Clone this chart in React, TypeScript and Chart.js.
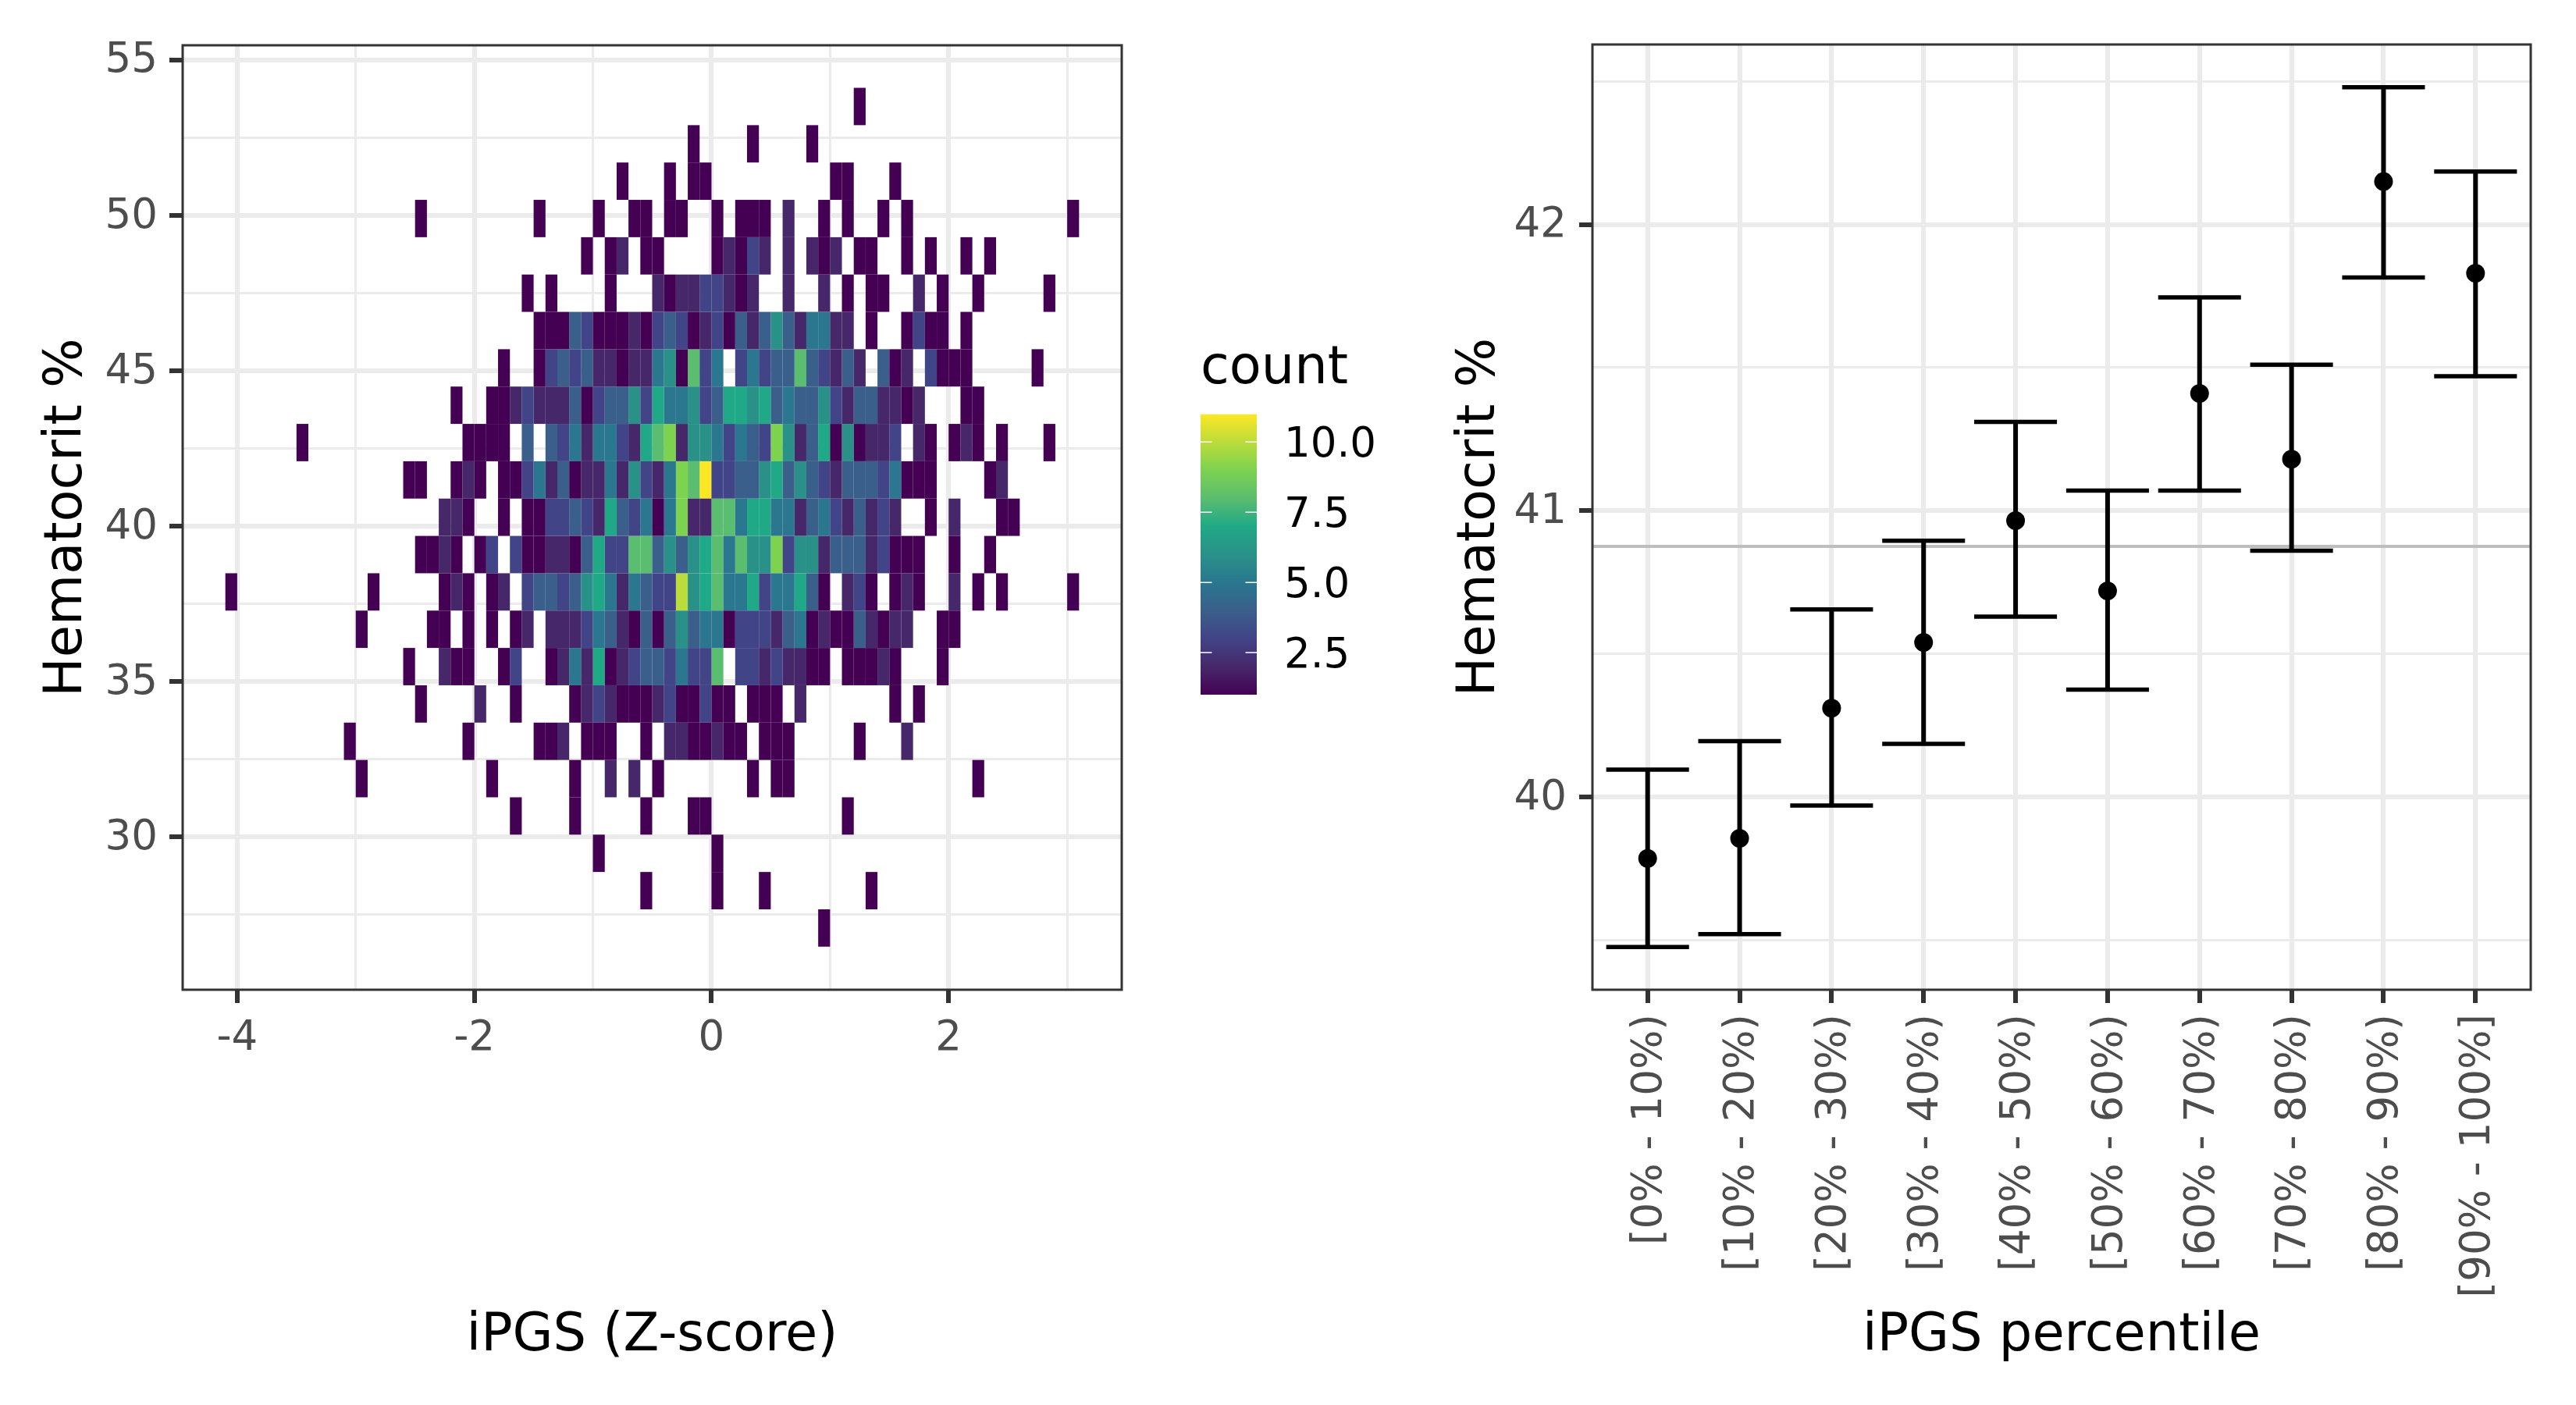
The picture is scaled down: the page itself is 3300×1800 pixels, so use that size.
import React, { useEffect, useRef } from "react";
import { Chart, registerables } from "chart.js";

Chart.register(...registerables);

const FONT = "'DejaVu Sans'";
const GRID = "#EBEBEB";
const DARK = "#333333";
const TICK_TEXT = "#4D4D4D";
const TICK_SIZE = 53;
const TITLE_SIZE = 67;

// viridis colours for counts 1..11
const COUNT_COLORS = ["#440154", "#46286A", "#414487", "#3A5F8A", "#2A778F", "#2A9188", "#20A986", "#5BBD6F", "#7DD250", "#BBDC3A", "#FDE725"];

const X_BIN = 0.1;
const Y_BIN = 1.2015;
const TOP_ROW_CENTER = 53.5;

// One list per hematocrit row, top to bottom: pairs of [x bin index, count]
const ROW_00 = [[12,1]];
const ROW_01 = [[-2,1],[3,1],[8,1]];
const ROW_02 = [[-8,1],[-4,1],[-2,1],[-1,1],[10,1],[11,1],[15,1]];
const ROW_03 = [[-25,1],[-15,1],[-10,1],[-7,1],[-6,1],[-4,1],[-3,1],[0,1],[2,1],[3,1],[4,1],[6,2],[9,1],[11,1],[14,1],[16,1],[30,1]];
const ROW_04 = [[-11,1],[-9,1],[-8,2],[-6,1],[-5,1],[0,1],[1,2],[2,1],[3,3],[4,2],[6,2],[8,2],[9,1],[10,2],[12,1],[13,1],[16,1],[18,1],[21,1],[23,1]];
const ROW_05 = [[-16,1],[-14,1],[-9,1],[-5,2],[-4,1],[-3,2],[-2,2],[-1,3],[0,3],[1,2],[2,1],[3,2],[6,2],[9,2],[11,1],[13,1],[14,1],[17,2],[19,1],[22,1],[28,1]];
const ROW_06 = [[-15,1],[-14,1],[-13,1],[-12,4],[-11,3],[-10,1],[-9,1],[-8,1],[-7,2],[-6,1],[-5,3],[-4,4],[-3,3],[-2,1],[-1,2],[0,3],[1,1],[2,4],[3,2],[4,4],[5,6],[6,4],[7,2],[8,5],[9,5],[10,2],[11,2],[13,1],[16,1],[17,3],[18,1],[19,1],[21,1]];
const ROW_07 = [[-18,1],[-15,1],[-14,3],[-13,4],[-12,3],[-11,4],[-10,2],[-9,2],[-8,1],[-7,2],[-6,2],[-5,5],[-4,6],[-3,1],[-2,8],[-1,3],[0,5],[2,3],[3,5],[4,3],[5,4],[6,4],[7,8],[8,4],[9,3],[10,2],[11,4],[12,2],[14,4],[15,1],[16,2],[18,3],[19,1],[20,1],[21,1],[27,1]];
const ROW_08 = [[-22,1],[-19,1],[-18,1],[-17,2],[-16,3],[-15,2],[-14,2],[-13,2],[-12,4],[-11,1],[-10,3],[-9,4],[-8,4],[-7,6],[-6,3],[-5,7],[-4,5],[-3,5],[-2,6],[-1,3],[0,4],[1,7],[2,7],[3,6],[4,7],[5,4],[6,5],[7,4],[8,4],[9,6],[10,3],[11,2],[12,4],[13,4],[14,2],[15,2],[16,1],[17,2],[21,1],[22,1]];
const ROW_09 = [[-35,1],[-21,1],[-20,1],[-19,1],[-18,1],[-16,4],[-14,4],[-13,3],[-12,5],[-11,2],[-10,5],[-9,5],[-8,3],[-7,2],[-6,7],[-5,8],[-4,9],[-3,2],[-2,6],[-1,6],[0,5],[1,3],[2,5],[3,4],[4,3],[5,9],[6,6],[7,2],[8,4],[9,7],[10,1],[11,6],[12,1],[13,2],[14,2],[15,3],[17,2],[18,1],[20,1],[21,2],[22,1],[24,1],[28,1]];
const ROW_10 = [[-26,1],[-25,1],[-22,1],[-21,2],[-20,1],[-18,1],[-17,1],[-16,3],[-15,5],[-14,2],[-13,4],[-12,1],[-11,2],[-10,2],[-9,5],[-8,2],[-7,6],[-6,3],[-5,2],[-4,5],[-3,9],[-2,8],[-1,11],[0,3],[1,3],[2,4],[3,4],[4,6],[5,7],[6,4],[7,6],[8,4],[9,3],[10,2],[11,4],[12,4],[13,4],[14,3],[15,5],[16,1],[17,1],[18,1],[23,1],[24,2]];
const ROW_11 = [[-23,2],[-22,2],[-21,1],[-18,1],[-16,1],[-15,1],[-14,3],[-13,3],[-12,4],[-11,3],[-10,2],[-9,7],[-8,4],[-7,3],[-6,5],[-5,1],[-4,5],[-3,9],[-2,2],[-1,2],[0,8],[1,8],[2,5],[3,7],[4,7],[5,5],[6,5],[7,2],[8,4],[9,5],[10,3],[11,2],[12,4],[13,2],[14,3],[15,2],[18,1],[20,2],[24,1],[25,1]];
const ROW_12 = [[-25,1],[-24,1],[-23,2],[-22,1],[-20,1],[-19,3],[-17,3],[-16,1],[-15,1],[-14,2],[-13,2],[-12,1],[-11,4],[-10,7],[-9,3],[-8,3],[-7,8],[-6,8],[-5,4],[-4,6],[-3,4],[-2,6],[-1,7],[0,8],[1,5],[2,8],[3,6],[4,6],[5,9],[6,3],[7,6],[8,6],[9,2],[10,4],[11,4],[12,4],[13,2],[14,3],[15,1],[16,1],[17,1],[20,1],[23,1]];
const ROW_13 = [[-41,1],[-29,1],[-23,1],[-22,2],[-21,1],[-19,1],[-18,2],[-16,3],[-15,4],[-14,4],[-13,3],[-12,4],[-11,6],[-10,7],[-9,5],[-8,2],[-7,5],[-6,4],[-5,3],[-4,3],[-3,10],[-2,6],[-1,7],[0,8],[1,5],[2,5],[3,7],[4,3],[5,5],[6,5],[7,7],[8,4],[9,1],[11,2],[12,3],[13,1],[15,1],[16,2],[17,1],[20,2],[22,1],[24,1],[30,1]];
const ROW_14 = [[-30,1],[-24,1],[-23,1],[-21,1],[-19,1],[-17,1],[-16,2],[-14,2],[-13,2],[-12,2],[-11,3],[-10,5],[-9,4],[-8,2],[-7,1],[-6,4],[-5,1],[-4,4],[-3,6],[-2,4],[-1,5],[0,5],[1,1],[2,3],[3,3],[4,3],[5,2],[6,4],[7,5],[8,1],[9,2],[10,1],[11,1],[12,4],[13,2],[14,1],[15,2],[16,2],[19,1],[20,1]];
const ROW_15 = [[-26,1],[-23,2],[-22,1],[-21,1],[-18,1],[-17,3],[-14,1],[-13,2],[-12,5],[-11,2],[-10,7],[-9,1],[-8,2],[-7,3],[-6,4],[-5,4],[-4,3],[-3,5],[-2,3],[-1,3],[0,8],[2,3],[3,3],[4,2],[5,3],[6,2],[7,2],[8,1],[9,1],[11,1],[12,1],[13,1],[14,2],[15,1],[19,1]];
const ROW_16 = [[-25,1],[-20,2],[-17,1],[-12,1],[-11,2],[-10,3],[-9,2],[-8,1],[-7,1],[-6,1],[-5,2],[-4,3],[-3,1],[-2,1],[-1,3],[0,1],[1,1],[3,1],[4,1],[5,1],[7,2],[15,1],[17,1]];
const ROW_17 = [[-31,1],[-21,1],[-15,1],[-14,1],[-13,2],[-11,1],[-10,1],[-9,1],[-6,1],[-4,2],[-3,2],[-2,1],[-1,1],[0,2],[1,1],[2,1],[4,1],[5,1],[6,1],[12,1],[16,2]];
const ROW_18 = [[-30,1],[-19,1],[-12,1],[-9,2],[-7,2],[-5,1],[3,1],[5,1],[6,1],[22,1]];
const ROW_19 = [[-17,1],[-12,1],[-6,1],[-2,1],[-1,1],[11,1]];
const ROW_20 = [[-10,1],[0,1]];
const ROW_21 = [[-6,1],[0,1],[4,1],[13,1]];
const ROW_22 = [[9,1]];
const HEAT_ROWS = [ROW_00,ROW_01,ROW_02,ROW_03,ROW_04,ROW_05,ROW_06,ROW_07,ROW_08,ROW_09,ROW_10,ROW_11,ROW_12,ROW_13,ROW_14,ROW_15,ROW_16,ROW_17,ROW_18,ROW_19,ROW_20,ROW_21,ROW_22];

const HEAT_X_MAJOR = [-4, -2, 0, 2];
const HEAT_X_MINOR = [-3, -1, 1, 3];
const HEAT_Y_MAJOR = [30, 35, 40, 45, 50, 55];
const HEAT_Y_MINOR = [27.5, 32.5, 37.5, 42.5, 47.5, 52.5];

const PERCENTILES = ["[0% - 10%)", "[10% - 20%)", "[20% - 30%)", "[30% - 40%)", "[40% - 50%)", "[50% - 60%)", "[60% - 70%)", "[70% - 80%)", "[80% - 90%)", "[90% - 100%]"];
const MEANS = [39.785, 39.855, 40.31, 40.54, 40.965, 40.72, 41.41, 41.18, 42.15, 41.83];
const LOWS = [39.475, 39.52, 39.97, 40.185, 40.63, 40.375, 41.07, 40.86, 41.815, 41.47];
const HIGHS = [40.095, 40.195, 40.655, 40.895, 41.31, 41.07, 41.745, 41.51, 42.48, 42.185];
const OVERALL_MEAN = 40.875;
const CAP_HALF = 0.45;
const RIGHT_Y_MAJOR = [40, 41, 42];
const RIGHT_Y_MINOR = [39.5, 40.5, 41.5, 42.5];

const LEGEND_TICKS = [2.5, 5, 7.5, 10];

const panelBorder = {
  id: "panelBorder",
  afterDraw(chart: any) {
    const { left, top, width, height } = chart.chartArea;
    const c = chart.ctx;
    c.save();
    c.strokeStyle = DARK;
    c.lineWidth = 3;
    c.strokeRect(left, top, width, height);
    c.restore();
  },
};

function axis(opts: any) {
  const { major, minor, labels, title, titlePad, fit, tickPad, min, max, rotate, labelOffset } = opts;
  const isMajor = (c: any) => major.includes(c.tick?.value);
  return {
    type: "linear",
    min,
    max,
    offset: false,
    afterBuildTicks: (s: any) => {
      s.ticks = [...major, ...minor].sort((a: number, b: number) => a - b).map((value: number) => ({ value }));
    },
    afterFit: fit,
    border: { display: false },
    grid: {
      offset: false,
      color: GRID,
      lineWidth: (c: any) => (isMajor(c) ? 6 : 3),
      tickColor: (c: any) => (isMajor(c) ? DARK : "rgba(0,0,0,0)"),
      tickWidth: (c: any) => (isMajor(c) ? 6 : 0),
      tickLength: 17,
      drawTicks: true,
    },
    ticks: {
      autoSkip: false,
      includeBounds: false,
      padding: tickPad,
      labelOffset: labelOffset ?? 0,
      color: TICK_TEXT,
      font: { family: FONT, size: TICK_SIZE },
      maxRotation: rotate ? 90 : 0,
      minRotation: rotate ? 90 : 0,
      callback: labels,
    },
    title: {
      display: true,
      text: title,
      color: "#000000",
      font: { family: FONT, size: TITLE_SIZE },
      padding: { top: titlePad, bottom: titlePad },
    },
  };
}

function useChart(make: (c: HTMLCanvasElement) => Chart) {
  const ref = useRef<HTMLCanvasElement | null>(null);
  useEffect(() => {
    const chart = make(ref.current!);
    return () => chart.destroy();
  }, []);
  return ref;
}

function heatConfig(): any {
  const datasets = COUNT_COLORS.map((color, k) => {
    const data: any[] = [];
    HEAT_ROWS.forEach((row, r) => {
      const mid = TOP_ROW_CENTER - r * Y_BIN;
      row.forEach(([bin, n]) => {
        if (n === k + 1) data.push({ x: (bin + 0.5) * X_BIN, y: [mid - Y_BIN / 2, mid + Y_BIN / 2] });
      });
    });
    return {
      label: String(k + 1),
      data,
      backgroundColor: color,
      borderWidth: 0,
      grouped: false,
      barThickness: 15.2,
      inflateAmount: 0,
    };
  });
  return {
    type: "bar",
    data: { datasets },
    options: {
      animation: false,
      responsive: false,
      devicePixelRatio: 1,
      layout: { padding: { left: 0, right: 63, top: 58, bottom: 0 } },
      plugins: { legend: { display: false }, tooltip: { enabled: false } },
      scales: {
        x: axis({
          min: -4.46, max: 3.46, major: HEAT_X_MAJOR, minor: HEAT_X_MINOR, title: "iPGS (Z-score)", titlePad: 47, tickPad: 14,
          labels: (v: number) => (HEAT_X_MAJOR.includes(v) ? String(v) : ""),
          fit: (s: any) => { s.height = 532; },
        }),
        y: axis({
          min: 25.08, max: 55.47, major: HEAT_Y_MAJOR, minor: HEAT_Y_MINOR, title: "Hematocrit %", titlePad: 46, tickPad: 15, labelOffset: 2,
          labels: (v: number) => (HEAT_Y_MAJOR.includes(v) ? String(v) : ""),
          fit: (s: any) => { s.width = 234; },
        }),
      },
    },
    plugins: [panelBorder],
  };
}

function errorConfig(): any {
  const line = (points: any[], color: string, width: number) => ({
    type: "line",
    data: points,
    borderColor: color,
    borderWidth: width,
    pointRadius: 0,
    fill: false,
    tension: 0,
    borderCapStyle: "butt",
  });
  const datasets: any[] = [
    {
      type: "scatter",
      data: MEANS.map((y, i) => ({ x: i, y })),
      backgroundColor: "#000000",
      borderColor: "#000000",
      pointRadius: 12,
      borderWidth: 0,
      showLine: false,
    },
  ];
  MEANS.forEach((_, i) => {
    datasets.push(line([{ x: i, y: LOWS[i] }, { x: i, y: HIGHS[i] }], "#000000", 6));
    datasets.push(line([{ x: i - CAP_HALF, y: LOWS[i] }, { x: i + CAP_HALF, y: LOWS[i] }], "#000000", 5.5));
    datasets.push(line([{ x: i - CAP_HALF, y: HIGHS[i] }, { x: i + CAP_HALF, y: HIGHS[i] }], "#000000", 5.5));
  });
  datasets.push(line([{ x: -0.6, y: OVERALL_MEAN }, { x: 9.6, y: OVERALL_MEAN }], "#BEBEBE", 4));
  const cats = PERCENTILES.map((_, i) => i);
  return {
    type: "line",
    data: { datasets },
    options: {
      animation: false,
      responsive: false,
      devicePixelRatio: 1,
      layout: { padding: { left: 0, right: 58, top: 57, bottom: 0 } },
      plugins: { legend: { display: false }, tooltip: { enabled: false } },
      scales: {
        x: axis({
          min: -0.6, max: 9.6, major: cats, minor: [], title: "iPGS percentile", titlePad: 47, tickPad: 14, rotate: true, labelOffset: 4,
          labels: (v: number) => PERCENTILES[v] ?? "",
          fit: (s: any) => { s.height = 532; },
        }),
        y: axis({
          min: 39.326, max: 42.629, major: RIGHT_Y_MAJOR, minor: RIGHT_Y_MINOR, title: "Hematocrit %", titlePad: 56, tickPad: 16, labelOffset: 2,
          labels: (v: number) => (RIGHT_Y_MAJOR.includes(v) ? String(v) : ""),
          fit: (s: any) => { s.width = 240; },
        }),
      },
    },
    plugins: [panelBorder],
  };
}

const legendTicks = {
  id: "legendTicks",
  afterDatasetsDraw(chart: any) {
    const { left, right } = chart.chartArea;
    const c = chart.ctx;
    c.save();
    c.strokeStyle = "#FFFFFF";
    c.lineWidth = 1.5;
    LEGEND_TICKS.forEach((v) => {
      const y = chart.scales.y.getPixelForValue(v);
      c.beginPath();
      c.moveTo(left, y);
      c.lineTo(left + 14.5, y);
      c.moveTo(right - 14.5, y);
      c.lineTo(right, y);
      c.stroke();
    });
    c.restore();
  },
};

function legendConfig(): any {
  return {
    type: "bar",
    data: {
      labels: ["count"],
      datasets: [
        {
          data: [[1, 11]],
          borderWidth: 0,
          categoryPercentage: 1,
          barPercentage: 1,
          inflateAmount: 0,
          backgroundColor: (ctx: any) => {
            const { chart } = ctx;
            if (!chart.chartArea) return COUNT_COLORS[0];
            const s = chart.scales.y;
            const g = chart.ctx.createLinearGradient(0, s.getPixelForValue(1), 0, s.getPixelForValue(11));
            COUNT_COLORS.forEach((col, i) => g.addColorStop(i / 10, col));
            return g;
          },
        },
      ],
    },
    options: {
      animation: false,
      responsive: false,
      devicePixelRatio: 1,
      layout: { padding: { left: 2, right: 0, top: 0, bottom: 20 } },
      plugins: {
        legend: { display: false },
        tooltip: { enabled: false },
        title: {
          display: true,
          text: "count",
          align: "start",
          color: "#000000",
          font: { family: FONT, size: TITLE_SIZE, weight: "normal" },
          padding: { top: 13, bottom: 17 },
        },
      },
      scales: {
        x: { display: false },
        y: {
          position: "right",
          min: 1,
          max: 11,
          afterBuildTicks: (s: any) => {
            s.ticks = LEGEND_TICKS.map((value) => ({ value }));
          },
          afterFit: (s: any) => {
            s.width = 226;
            s.paddingTop = 0;
            s.paddingBottom = 0;
          },
          border: { display: false },
          grid: { display: false, drawTicks: false },
          ticks: {
            padding: 35,
            labelOffset: 5,
            color: "#000000",
            font: { family: FONT, size: TICK_SIZE },
            callback: (v: number) => v.toFixed(1),
          },
        },
      },
    },
    plugins: [legendTicks],
  };
}

export default function App() {
  const heat = useChart((c) => new Chart(c, heatConfig()));
  const errs = useChart((c) => new Chart(c, errorConfig()));
  const leg = useChart((c) => new Chart(c, legendConfig()));
  const abs = (left: number, top: number): React.CSSProperties => ({ position: "absolute", left, top, display: "block" });
  return (
    <div style={{ position: "absolute", left: 0, top: 0, width: 3300, height: 1800, background: "#FFFFFF", overflow: "hidden" }}>
      <canvas ref={heat} width={1500} height={1800} style={abs(0, 0)} />
      <canvas ref={leg} width={300} height={490} style={abs(1536, 420)} />
      <canvas ref={errs} width={1500} height={1800} style={abs(1800, 0)} />
    </div>
  );
}
